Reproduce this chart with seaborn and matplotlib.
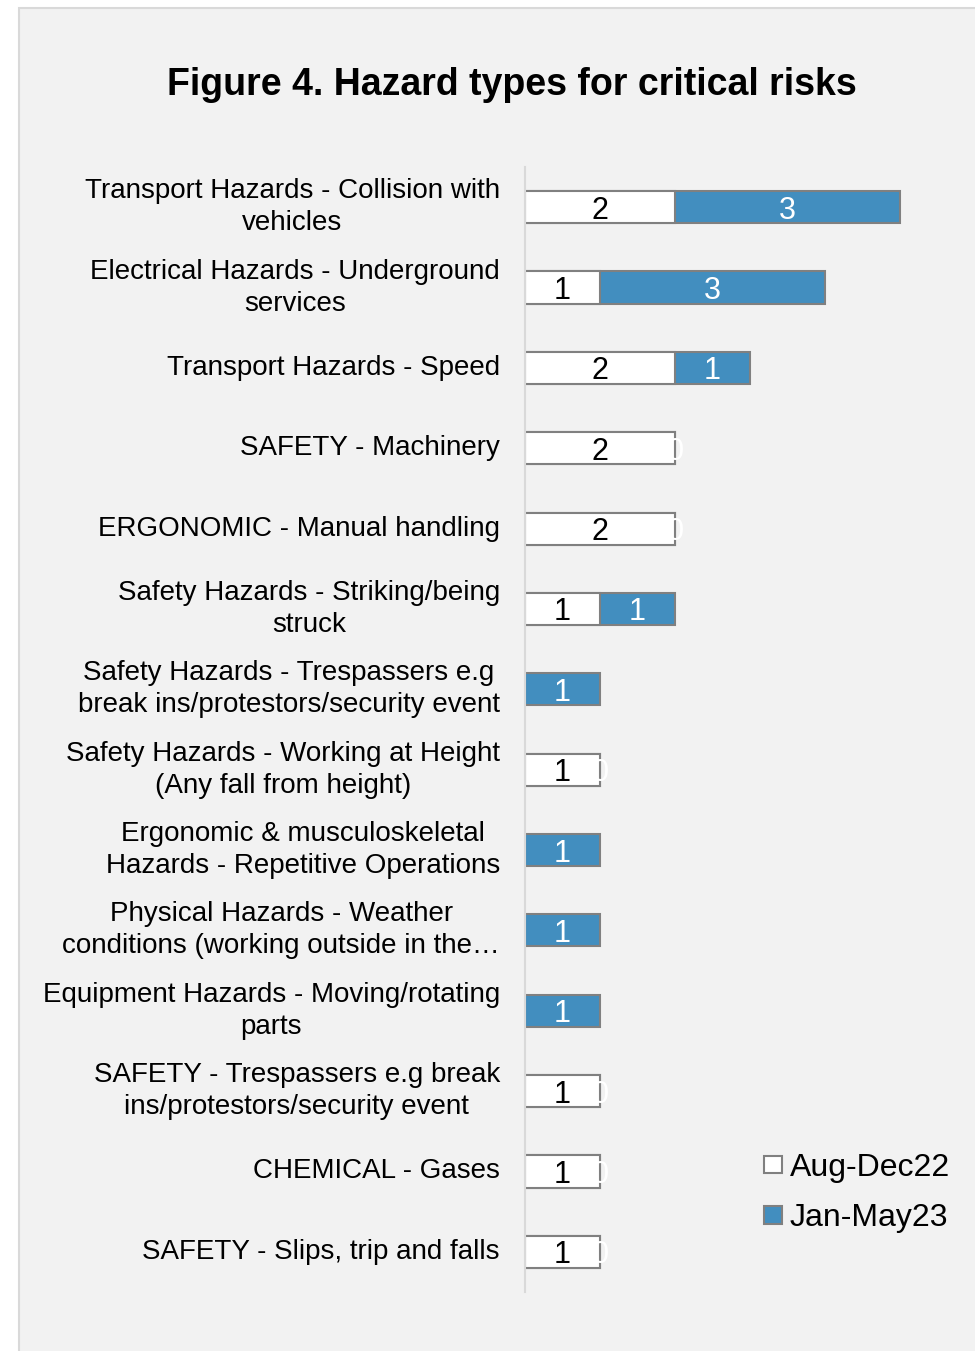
import matplotlib
matplotlib.use('Agg')
import matplotlib.pyplot as plt
import seaborn as sns
import pandas as pd
from matplotlib.patches import Rectangle

categories = [
    "Transport Hazards - Collision with\nvehicles",
    "Electrical Hazards - Underground\nservices",
    "Transport Hazards - Speed",
    "SAFETY - Machinery",
    "ERGONOMIC - Manual handling",
    "Safety Hazards - Striking/being\nstruck",
    "Safety Hazards - Trespassers e.g\nbreak ins/protestors/security event",
    "Safety Hazards - Working at Height\n(Any fall from height)",
    "Ergonomic & musculoskeletal\nHazards - Repetitive Operations",
    "Physical Hazards - Weather\nconditions (working outside in the…",
    "Equipment Hazards - Moving/rotating\nparts",
    "SAFETY - Trespassers e.g break\nins/protestors/security event",
    "CHEMICAL - Gases",
    "SAFETY - Slips, trip and falls",
]
aug_dec22 = [2, 1, 2, 2, 2, 1, 0, 1, 0, 0, 0, 1, 1, 1]
jan_may23 = [3, 3, 1, 0, 0, 1, 1, 0, 1, 1, 1, 0, 0, 0]
series_names = ["Aug-Dec22", "Jan-May23"]
title = "Figure 4. Hazard types for critical risks"

BLUE = "#428ebf"
EDGE = "#808080"

sns.set_style("white")
plt.rcParams['font.family'] = ['Liberation Sans', 'DejaVu Sans']
plt.rcParams['text.color'] = 'black'
plt.rcParams['ytick.color'] = 'black'
plt.rcParams['ytick.labelcolor'] = 'black'

df = pd.DataFrame({"category": categories, "aug": aug_dec22, "jan": jan_may23})
df["total"] = df["aug"] + df["jan"]

W, H = 975, 1351
fig = plt.figure(figsize=(W / 100, H / 100), dpi=100)
fig.patch.set_facecolor('white')
bg = Rectangle((19 / W, -0.01), 1.0, 1 - 8 / H + 0.01, transform=fig.transFigure,
               facecolor='#f2f2f2', edgecolor='#d9d9d9', linewidth=1.5, zorder=-10)
fig.add_artist(bg)

ax = fig.add_axes([525 / W, 1 - 1292 / H, 450 / W, 1125 / H])
ax.patch.set_visible(False)

sns.barplot(data=df, x="total", y="category", order=categories, color=BLUE,
            saturation=1, width=0.4, edgecolor=EDGE, linewidth=1.5, ax=ax)
sns.barplot(data=df, x="aug", y="category", order=categories, color="white",
            saturation=1, width=0.4, edgecolor=EDGE, linewidth=1.5, ax=ax)

for i, (a, j) in enumerate(zip(aug_dec22, jan_may23)):
    if a > 0:
        ax.text(a / 2, i, str(a), ha='center', va='center_baseline',
                color='black', fontsize=22)
    ax.text(a + j / 2, i, str(j), ha='center', va='center_baseline',
            color='white', fontsize=22)

ax.set_xlim(0, 6)
ax.set_ylim(len(categories) - 0.5, -0.5)
ax.set_xlabel('')
ax.set_ylabel('')
ax.set_xticks([])
ax.tick_params(axis='y', length=0, pad=18, labelsize=20, labelcolor='black')
for lbl in ax.get_yticklabels():
    lbl.set_multialignment('center')
    lbl.set_linespacing(1.3)
    lbl.set_verticalalignment('center')
for s in ['top', 'right', 'bottom']:
    ax.spines[s].set_visible(False)
ax.spines['left'].set_color('#d9d9d9')
ax.spines['left'].set_linewidth(1.5)

fig.text(512 / W, 1 - 85 / H, title, ha='center', va='center',
         fontsize=27, fontweight='bold', color='black')

handles = [ax.containers[1], ax.containers[0]]
fig.legend(handles, series_names, loc='center left',
           bbox_to_anchor=(748 / W, 1 - 1193 / H), frameon=False,
           fontsize=23, borderpad=0, handlelength=0.55, handleheight=0.45,
           handletextpad=0.25, labelspacing=0.65, labelcolor='black')

fig.savefig('out.png', dpi=100)
